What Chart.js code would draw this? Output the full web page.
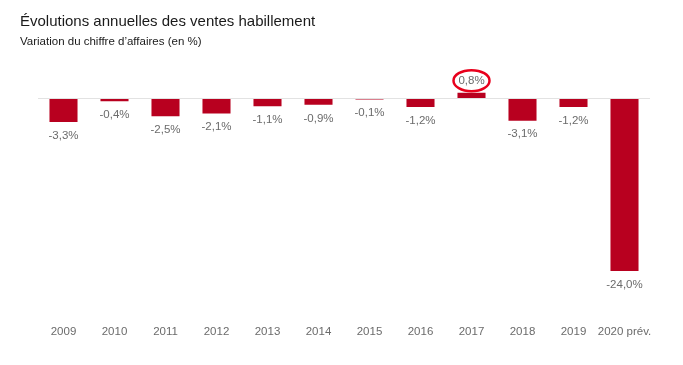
<!DOCTYPE html>
<html>
<head>
<meta charset="utf-8">
<script src="https://cdn.jsdelivr.net/npm/chart.js@4"></script>
<style>
  html, body { margin: 0; padding: 0; background: #fff; }
  #wrap { width: 683px; height: 365px; }
</style>
</head>
<body>
<div id="wrap"><canvas id="chart"></canvas></div>
<script>
var years = ['2009', '2010', '2011', '2012', '2013', '2014', '2015', '2016', '2017', '2018', '2019', '2020 prév.'];
var variations = [-3.3, -0.4, -2.5, -2.1, -1.1, -0.9, -0.1, -1.2, 0.8, -3.1, -1.2, -24.0];
var highlighted = ['2017'];

function fmt(v) {
  return v.toFixed(1).replace('.', ',') + '%';
}

// labels under / above each bar, plus the red ring round the highlighted one
var valueLabels = {
  id: 'valueLabels',
  afterDatasetsDraw: function(chart) {
    var ctx = chart.ctx;
    var meta = chart.getDatasetMeta(0);
    ctx.save();
    ctx.font = '11.5px "Liberation Sans", Arial, sans-serif';
    ctx.textAlign = 'center';
    ctx.textBaseline = 'middle';
    meta.data.forEach(function(bar, i) {
      var v = variations[i];
      var y = v < 0 ? bar.y + 13.5 : bar.y - 12;
      ctx.fillStyle = '#6b6b6b';
      ctx.fillText(fmt(v), bar.x, y);
      if (highlighted.indexOf(years[i]) >= 0) {
        ctx.strokeStyle = '#e8001c';
        ctx.lineWidth = 2.5;
        ctx.beginPath();
        ctx.ellipse(bar.x, y, 18, 10.5, 0, 0, Math.PI * 2);
        ctx.stroke();
      }
    });
    ctx.restore();
  }
};

new Chart(document.getElementById('chart'), {
  type: 'bar',
  data: {
    labels: years,
    datasets: [{
      data: variations,
      backgroundColor: '#b8001f',
      borderWidth: 0,
      minBarLength: 1,
      categoryPercentage: 1,
      barPercentage: 0.55
    }]
  },
  options: {
    responsive: true,
    maintainAspectRatio: false,
    animation: false,
    layout: { padding: { left: 20, right: 33, top: 9, bottom: 23 } },
    plugins: {
      legend: { display: false },
      tooltip: { enabled: false },
      title: {
        display: true,
        align: 'start',
        text: 'Évolutions annuelles des ventes habillement',
        color: '#1a1a1a',
        font: { family: '"Liberation Sans", Arial, sans-serif', size: 15, weight: 'normal' },
        padding: { top: 4, bottom: 4 }
      },
      subtitle: {
        display: true,
        align: 'start',
        text: 'Variation du chiffre d\u2019affaires (en %)',
        color: '#1a1a1a',
        font: { family: '"Liberation Sans", Arial, sans-serif', size: 11.5 },
        padding: { bottom: 28 }
      }
    },
    scales: {
      x: {
        grid: { display: false },
        border: { display: false },
        ticks: {
          color: '#6b6b6b',
          padding: 3,
          autoSkip: false,
          maxRotation: 0,
          font: { family: '"Liberation Sans Narrow", "Liberation Sans", Arial, sans-serif', size: 11.5 }
        }
      },
      y: {
        min: -30,
        max: 3,
        afterFit: function(scale) { scale.width = 18; },
        border: { display: false },
        ticks: { display: false, stepSize: 3 },
        grid: {
          drawTicks: false,
          color: function(c) { return c.tick && c.tick.value === 0 ? '#e2e2e2' : 'rgba(0,0,0,0)'; }
        }
      }
    }
  },
  plugins: [valueLabels]
});
</script>
</body>
</html>
